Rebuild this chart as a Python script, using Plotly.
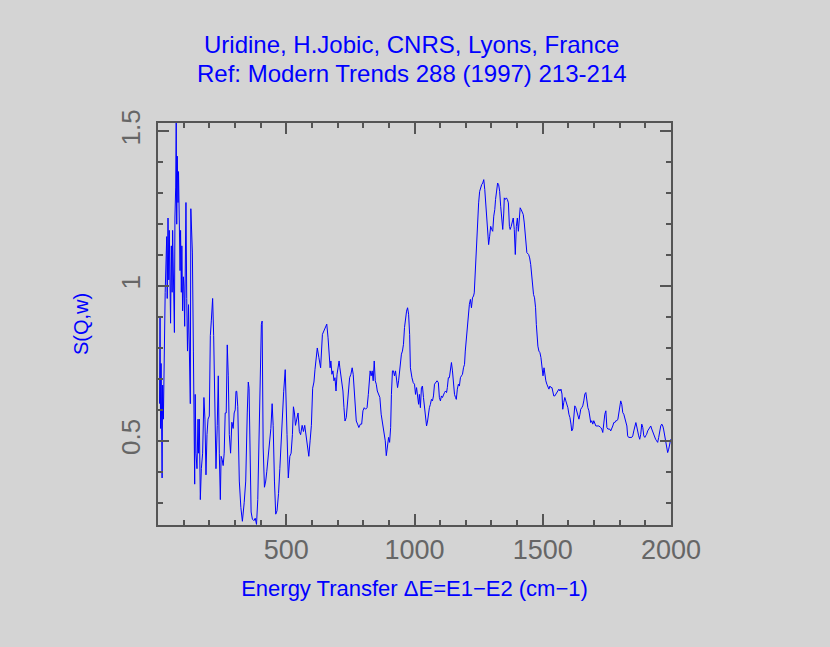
import plotly.graph_objects as go

# Energy transfer (cm-1) and S(Q,w)
energy = [
    6, 8, 10, 12, 16, 18, 21, 25, 28, 34, 36, 39, 42, 44, 47, 49, 52, 55, 57, 60,
    64, 66, 69, 71, 73, 75, 78, 80, 83, 86, 88, 91, 93, 96, 99, 101, 104, 106, 109, 112,
    115, 119, 122, 126, 128, 131, 134, 138, 140, 143, 145, 148, 152, 156, 158, 161, 165, 169, 174, 179,
    183, 187, 191, 195, 200, 204, 208, 213, 217, 221, 226, 231, 235, 239, 243, 246, 250, 254, 258, 262,
    266, 270, 274, 278, 283, 288, 293, 297, 301,
    304, 307, 311, 317, 323, 329, 336, 342, 348, 352, 355, 359, 363, 368, 374, 379, 384, 389, 394, 400,
    403, 406, 410, 415, 420, 424, 429, 435, 440, 445, 449, 454, 459, 464, 470, 475, 480, 485, 490, 496,
    499, 503, 508, 514, 519, 524, 528, 532, 536, 541, 546, 551, 556, 562, 567, 572, 577, 582, 588, 593,
    598, 603, 608, 612, 616, 621, 627,
    634, 641, 647, 654, 658, 663, 667, 671, 674, 678, 682, 686, 690, 694, 698, 702, 706, 709, 713, 717,
    721, 725, 729, 734, 738, 742, 747, 752, 757, 761, 765, 769, 773, 778, 783, 789, 794, 799, 804, 809,
    815, 820, 824, 827, 831, 835, 839, 843, 847, 851, 855, 860, 865, 870, 875, 881, 886, 890, 894, 899,
    903, 907, 910, 914, 918, 922, 926, 930, 934, 938, 942, 945, 949, 953, 957, 961, 965, 969, 973, 977,
    981, 984, 990, 995, 1000, 1004, 1008, 1012, 1016, 1019, 1023, 1027, 1031, 1035, 1039, 1043, 1047, 1051, 1054, 1058,
    1062, 1066, 1070, 1074, 1078, 1083, 1088, 1093, 1097, 1101, 1105, 1109, 1113, 1117, 1121, 1125, 1128, 1132, 1136, 1140,
    1144, 1148, 1152, 1156, 1160, 1163, 1167, 1171, 1175, 1179, 1183, 1187, 1191, 1195, 1198, 1202, 1206, 1210, 1214, 1218,
    1222, 1226, 1230, 1233,
    1239, 1243, 1246, 1250, 1254, 1258, 1262, 1266, 1270, 1274, 1278, 1281, 1285, 1289, 1293, 1297, 1301, 1305, 1309, 1313,
    1316, 1320, 1324, 1328, 1332, 1336, 1340, 1344, 1348, 1350, 1354, 1358, 1362, 1366, 1370, 1373, 1377, 1381, 1385, 1389,
    1393, 1397, 1401, 1405, 1409, 1412, 1416, 1420, 1424, 1428,
    1438, 1445, 1449, 1453, 1457, 1460, 1464, 1468, 1472, 1475, 1477, 1481, 1485, 1489, 1493, 1497, 1501, 1505, 1508, 1512,
    1516, 1520, 1524, 1528, 1532, 1536, 1540, 1543, 1547, 1551, 1555, 1559, 1563, 1567, 1571, 1575, 1578, 1582, 1586, 1590,
    1594, 1598, 1602, 1606, 1610, 1613, 1617, 1621, 1625, 1629, 1633, 1637, 1641, 1645, 1648, 1652, 1656, 1660, 1664, 1668,
    1672, 1676, 1680, 1683, 1687, 1691, 1695, 1699, 1703, 1707, 1711, 1719, 1726, 1730, 1734, 1738, 1742, 1746, 1750, 1754,
    1761, 1765, 1769, 1773, 1777, 1781, 1785, 1789, 1793, 1796, 1800, 1804, 1808, 1812, 1816, 1820, 1824, 1828, 1831, 1835,
    1847, 1851, 1855, 1859, 1863, 1866, 1870, 1874, 1878, 1882, 1886, 1890, 1894, 1898, 1901, 1905, 1909, 1913, 1917, 1921,
    1925, 1929, 1933, 1936, 1940, 1944, 1948, 1952, 1956, 1960, 1964, 1968, 1971, 1975, 1979, 1983, 1987, 1991, 1995, 1999,
]

sqw = [
    0.62, 0.90, 0.54, 0.75, 0.38, 0.68, 0.57, 0.84, 0.98, 1.16, 0.96, 1.22, 1.02, 1.18, 1.00, 0.88, 1.13, 0.98, 1.18, 1.02,
    0.85, 1.22, 1.32, 1.53, 1.20, 1.42, 1.27, 1.37, 1.16, 1.05, 1.18, 0.98, 1.13, 0.92, 1.03, 1.00, 0.87, 1.09, 1.27, 0.96,
    0.79, 0.94, 0.72, 0.62, 1.25, 1.18, 1.11, 0.79, 0.44, 0.36, 0.65, 0.46, 0.41, 0.57, 0.46, 0.57, 0.31, 0.41, 0.46, 0.64,
    0.57, 0.39, 0.52, 0.57, 0.58, 0.84, 0.89, 0.96, 0.84, 0.62, 0.41, 0.55, 0.71, 0.46, 0.31, 0.45, 0.44, 0.42, 0.46, 0.59,
    0.59, 0.81, 0.71, 0.52, 0.46, 0.56, 0.54, 0.59, 0.60,
    0.66, 0.66, 0.61, 0.37, 0.285, 0.24, 0.30, 0.37, 0.59, 0.69, 0.67, 0.44, 0.27, 0.247, 0.242, 0.25, 0.23, 0.31, 0.50, 0.80,
    0.876, 0.887, 0.48, 0.35, 0.37, 0.40, 0.44, 0.48, 0.54, 0.62, 0.55, 0.37, 0.263, 0.274, 0.33, 0.41, 0.50, 0.56, 0.66, 0.73,
    0.66, 0.52, 0.38, 0.45, 0.46, 0.52, 0.61, 0.59, 0.55, 0.575, 0.59, 0.53, 0.52, 0.55, 0.53, 0.55, 0.52, 0.49, 0.45, 0.50,
    0.55, 0.67, 0.69, 0.73, 0.77, 0.80, 0.77,
    0.736, 0.844, 0.855, 0.866, 0.877, 0.833, 0.769, 0.736, 0.758, 0.715, 0.726, 0.694, 0.704, 0.661, 0.715, 0.736, 0.758, 0.736, 0.715, 0.683,
    0.661, 0.607, 0.564, 0.575, 0.618, 0.672, 0.704, 0.715, 0.736, 0.715, 0.672, 0.607, 0.564, 0.554, 0.543, 0.554, 0.554, 0.597, 0.607, 0.602,
    0.607, 0.650, 0.715, 0.726, 0.710, 0.726, 0.694, 0.758, 0.694, 0.683, 0.661, 0.650, 0.640, 0.586, 0.554, 0.532, 0.500, 0.452, 0.478, 0.511,
    0.495, 0.543, 0.650, 0.726, 0.726, 0.710, 0.726, 0.704, 0.672, 0.694, 0.726, 0.758, 0.780, 0.790, 0.812, 0.866, 0.898, 0.919, 0.930, 0.909,
    0.844, 0.736, 0.704, 0.688, 0.683, 0.650, 0.672, 0.640, 0.618, 0.650, 0.607, 0.672, 0.677, 0.640, 0.607, 0.564, 0.548, 0.564, 0.586, 0.607,
    0.618, 0.634, 0.629, 0.645, 0.683, 0.688, 0.694, 0.688, 0.640, 0.629, 0.645, 0.640, 0.650, 0.656, 0.661, 0.656, 0.672, 0.704, 0.704, 0.726,
    0.753, 0.726, 0.672, 0.650, 0.640, 0.634, 0.667, 0.683, 0.677, 0.704, 0.710, 0.715, 0.736, 0.747, 0.790, 0.833, 0.866, 0.898, 0.941, 0.957,
    0.930, 0.962, 0.968, 0.978,
    1.086, 1.140, 1.215, 1.269, 1.306, 1.322, 1.328, 1.333, 1.344, 1.312, 1.269, 1.215, 1.172, 1.134, 1.161, 1.193, 1.183, 1.177, 1.226, 1.247,
    1.280, 1.312, 1.333, 1.328, 1.306, 1.258, 1.215, 1.183, 1.236, 1.285, 1.280, 1.285, 1.280, 1.269, 1.193, 1.183, 1.193, 1.204, 1.220, 1.183,
    1.102, 1.193, 1.220, 1.177, 1.215, 1.253, 1.247, 1.236, 1.231, 1.204,
    1.108, 1.102, 1.091, 1.070, 1.027, 0.995, 0.973, 0.962, 0.930, 0.876, 0.833, 0.806, 0.790, 0.785, 0.769, 0.747, 0.710, 0.736, 0.715, 0.694,
    0.683, 0.677, 0.667, 0.677, 0.672, 0.672, 0.661, 0.645, 0.645, 0.651, 0.656, 0.661, 0.667, 0.661, 0.667, 0.651, 0.602, 0.624, 0.640, 0.629,
    0.618, 0.607, 0.586, 0.575, 0.554, 0.532, 0.538, 0.575, 0.613, 0.607, 0.591, 0.586, 0.570, 0.586, 0.602, 0.607, 0.613, 0.629, 0.651, 0.656,
    0.618, 0.607, 0.597, 0.575, 0.559, 0.565, 0.554, 0.565, 0.559, 0.548, 0.548, 0.548, 0.543, 0.538, 0.527, 0.559, 0.586, 0.597, 0.543, 0.538,
    0.538, 0.532, 0.538, 0.548, 0.559, 0.559, 0.565, 0.565, 0.570, 0.586, 0.607, 0.629, 0.618, 0.591, 0.586, 0.575, 0.565, 0.548, 0.516, 0.511,
    0.511, 0.516, 0.532, 0.543, 0.559, 0.548, 0.527, 0.516, 0.505, 0.521, 0.554, 0.543, 0.516, 0.511, 0.516, 0.521, 0.532, 0.538, 0.543, 0.548,
    0.538, 0.527, 0.521, 0.511, 0.505, 0.500, 0.495, 0.511, 0.532, 0.548, 0.554, 0.548, 0.538, 0.521, 0.505, 0.489, 0.462, 0.473, 0.495, 0.505,
]

x_ticks = [500, 1000, 1500, 2000]
y_ticks = [0.5, 1, 1.5]
y_ticktext = ['0.5', '1', '1.5']
title_lines = ['Uridine, H.Jobic, CNRS, Lyons, France',
               'Ref: Modern Trends 288 (1997) 213-214']

bg = '#d4d4d4'
axis_col = '#555555'
font_family = 'Liberation Sans, Arial'

fig = go.Figure()

fig.add_trace(go.Scatter(x=energy,
                         y=sqw,
                         mode='lines',
                         line=dict(color='#0000ff', width=1),
                         showlegend=False
                         )
              )

# Two title lines, placed separately to get the tight line spacing
for _text, _y in zip(title_lines, [1.1965, 1.124]):
    fig.add_annotation(text=_text, x=0.495, y=_y, xref='paper', yref='paper',
                       xanchor='center', yanchor='middle', showarrow=False,
                       font=dict(family=font_family, size=24, color='#0000ff'))

fig.update_layout(
    width=830,
    height=647,
    autosize=False,
    paper_bgcolor=bg,
    plot_bgcolor=bg,
    margin=dict(l=158, r=159, t=123, b=122),
    xaxis=dict(range=[0, 2000], tickvals=x_ticks, ticks='inside', ticklen=11,
               tickwidth=1.5, tickcolor=axis_col, showline=True, linecolor=axis_col,
               linewidth=2, mirror='ticks', showgrid=False, zeroline=False,
               minor=dict(dtick=100, tick0=0, ticks='inside', ticklen=5,
                          tickcolor=axis_col, showgrid=False),
               tickfont=dict(family=font_family, size=27, color='#666666'),
               ticklabelstandoff=0,
               title=dict(text='Energy Transfer \u0394E=E1\u2212E2 (cm\u22121)', standoff=16,
                          font=dict(family=font_family, size=22, color='#0000ff'))),
    yaxis=dict(range=[0.228, 1.527], tickvals=y_ticks, ticktext=y_ticktext,
               ticks='inside', ticklen=11, tickwidth=1.5, tickcolor=axis_col,
               showline=True, linecolor=axis_col, linewidth=2, mirror='ticks',
               showgrid=False, zeroline=False, tickangle=-90,
               minor=dict(dtick=0.1, tick0=0, ticks='inside', ticklen=5,
                          tickcolor=axis_col, showgrid=False),
               tickfont=dict(family=font_family, size=26, color='#666666'),
               ticklabelstandoff=6,
               title=dict(text='S(Q,w)', standoff=22,
                          font=dict(family=font_family, size=20, color='#0000ff'))),
)

# drop the default page margin so the figure fills the window like the original
fig.write_html("out.html",
               config={'displayModeBar': False},
               post_script="document.body.style.margin='0';document.body.style.background='#d4d4d4';")
